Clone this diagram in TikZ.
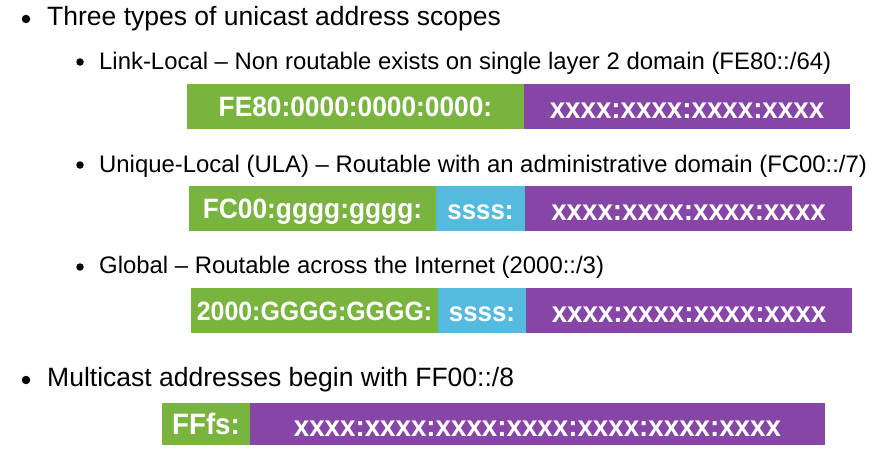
\documentclass[tikz,border=0pt]{standalone}
\usepackage{fontspec}
\setmainfont{Liberation Sans}
\newfontfamily\barfont[FakeStretch=0.94]{Liberation Sans}
\usetikzlibrary{positioning}
\definecolor{addrgreen}{HTML}{78B43E}
\definecolor{addrpurple}{HTML}{8745A8}
\definecolor{addrblue}{HTML}{55BBDE}

\begin{document}
\begin{tikzpicture}[x=1pt,y=-1pt]%
  \tikzstyle{seg}=[rectangle,inner sep=0,outer sep=0,text=white,text depth=0pt,minimum height=45pt]
  \tikzstyle{pre}=[seg,fill=addrgreen,text height=19pt,font=\barfont\bfseries\fontsize{28}{28}\selectfont]
  \tikzstyle{sub}=[seg,fill=addrblue,text height=21pt,font=\barfont\bfseries\fontsize{27.5}{27.5}\selectfont]
  \tikzstyle{iid}=[seg,fill=addrpurple,text height=24pt,font=\barfont\bfseries\fontsize{29.5}{29.5}\selectfont]
  \tikzstyle{top}=[anchor=base west,inner sep=0,font=\fontsize{26.5}{26.5}\selectfont]
  \tikzstyle{item}=[anchor=base west,inner sep=0,font=\fontsize{23.9}{23.9}\selectfont]
  \tikzstyle{bul}=[circle,fill=black,inner sep=0,minimum size=8.5pt]
  \tikzstyle{subbul}=[circle,fill=black,inner sep=0,minimum size=7.5pt]
  \useasboundingbox (0,0) rectangle (880,460);
  \node(b1)[bul] at (26,19) {};
  \node(t1)[top] at (47,26) {Three types of unicast address scopes};
  \node(b11)[subbul] at (80,62) {};
  \node(t11)[item] at (99,70) {Link-Local -- Non routable exists on single layer 2 domain (FE80::/64)};
  \node(ll-pre)[pre,anchor=north west,minimum width=337pt] at (187,84) {FE80:0000:0000:0000:};
  \node(ll-iid)[iid,right=0pt of ll-pre,minimum width=326pt] {xxxx:xxxx:xxxx:xxxx};
  \node(b12)[subbul] at (80,165) {};
  \node(t12)[item] at (99,172) {Unique-Local (ULA) -- Routable with an administrative domain (FC00::/7)};
  \node(ula-pre)[pre,anchor=north west,minimum width=247pt] at (189,186) {FC00:gggg:gggg:};
  \node(ula-sub)[sub,right=0pt of ula-pre,minimum width=89pt] {ssss:};
  \node(ula-iid)[iid,right=0pt of ula-sub,minimum width=327pt] {xxxx:xxxx:xxxx:xxxx};
  \node(b13)[subbul] at (80,267) {};
  \node(t13)[item] at (99,273) {Global -- Routable across the Internet (2000::/3)};
  \node(gl-pre)[pre,anchor=north west,minimum width=247pt,font=\barfont\bfseries\fontsize{26.5}{26.5}\selectfont] at (191,288) {2000:GGGG:GGGG:};
  \node(gl-sub)[sub,right=0pt of gl-pre,minimum width=88pt] {ssss:};
  \node(gl-iid)[iid,right=0pt of gl-sub,minimum width=326pt] {xxxx:xxxx:xxxx:xxxx};
  \node(b2)[bul] at (26,380) {};
  \node(t2)[top] at (47,386) {Multicast addresses begin with FF00::/8};
  \node(mc-pre)[pre,anchor=north west,minimum width=88pt,minimum height=42pt,text height=20pt,font=\barfont\bfseries\fontsize{29.5}{29.5}\selectfont] at (162,403) {FFfs:};
  \node(mc-iid)[iid,right=0pt of mc-pre,minimum width=575pt,minimum height=42pt] {xxxx:xxxx:xxxx:xxxx:xxxx:xxxx:xxxx};
\end{tikzpicture}
\end{document}
